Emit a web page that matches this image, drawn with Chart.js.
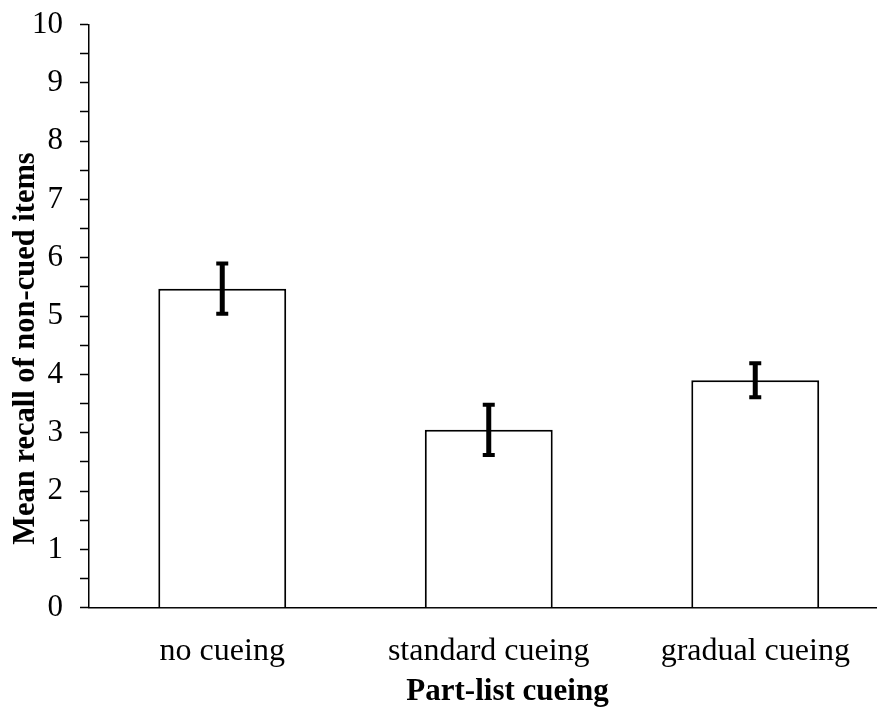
<!DOCTYPE html>
<html>
<head>
<meta charset="utf-8">
<script src="https://cdn.jsdelivr.net/npm/chart.js@4"></script>
<style>
  html, body { margin: 0; padding: 0; background: #fff; overflow: hidden; width: 877px; height: 711px; }
  #wrap { width: 900px; height: 711px; }
</style>
</head>
<body>
<div id="wrap"><canvas id="c" width="900" height="711"></canvas></div>
<script>
const categories = ['no cueing', 'standard cueing', 'gradual cueing'];
const meanRecall = [5.47, 3.05, 3.90];
const errorValues = [0.43, 0.43, 0.29];
const yMin = 0;
const yMax = 10;
const yStep = 0.5;
const xTitle = 'Part-list cueing';
const yTitle = 'Mean recall of non-cued items';

const FONT = '"Liberation Serif", "Times New Roman", serif';

const overlayPlugin = {
  id: 'overlay',
  afterDatasetsDraw(chart) {
    const ctx = chart.ctx;
    const xs = chart.scales.x, ys = chart.scales.y;
    ctx.save();
    ctx.strokeStyle = '#000';
    ctx.lineCap = 'butt';
    meanRecall.forEach((m, i) => {
      const cx = xs.getPixelForValue(i);
      const top = ys.getPixelForValue(m + errorValues[i]);
      const bot = ys.getPixelForValue(m - errorValues[i]);
      ctx.lineWidth = 5;
      ctx.beginPath();
      ctx.moveTo(cx, top);
      ctx.lineTo(cx, bot);
      ctx.stroke();
      ctx.lineWidth = 4;
      ctx.beginPath();
      ctx.moveTo(cx - 6, top);
      ctx.lineTo(cx + 6, top);
      ctx.moveTo(cx - 6, bot);
      ctx.lineTo(cx + 6, bot);
      ctx.stroke();
    });
    ctx.restore();
  },
  afterDraw(chart) {
    const ctx = chart.ctx;
    ctx.save();
    ctx.fillStyle = '#000';
    ctx.font = 'bold 31px ' + FONT;
    ctx.textAlign = 'center';
    ctx.textBaseline = 'alphabetic';
    ctx.fillText(xTitle, 507.5, 700);
    ctx.translate(34, 348.5);
    ctx.rotate(-Math.PI / 2);
    ctx.font = 'bold 30.5px ' + FONT;
    ctx.fillText(yTitle, 0, 0);
    ctx.restore();
  }
};

new Chart(document.getElementById('c'), {
  type: 'bar',
  data: {
    labels: categories,
    datasets: [{
      data: meanRecall,
      backgroundColor: '#ffffff',
      borderColor: '#000000',
      borderWidth: 2,
      barPercentage: 0.48,
      categoryPercentage: 1.0
    }]
  },
  options: {
    responsive: false,
    devicePixelRatio: 1,
    animation: false,
    layout: { padding: { left: 30, right: 11.5, top: 24.5, bottom: 0 } },
    plugins: { legend: { display: false }, tooltip: { enabled: false } },
    scales: {
      x: {
        grid: { display: false },
        border: { display: true, color: '#000', width: 1.5 },
        ticks: { color: '#000', font: { family: FONT, size: 32 }, padding: 17, maxRotation: 0, autoSkip: false },
        afterFit: s => { s.height = 103.3; s.paddingLeft = 0; s.paddingRight = 0; }
      },
      y: {
        min: yMin,
        max: yMax,
        grid: { drawOnChartArea: false, drawTicks: true, tickLength: 9, color: '#000', tickWidth: 1.5 },
        border: { display: true, color: '#000', width: 1.5 },
        ticks: {
          stepSize: yStep,
          autoSkip: false,
          color: '#000',
          font: { family: FONT, size: 31 },
          padding: 17,
          callback: v => Number.isInteger(v) ? String(v) : ''
        },
        afterFit: s => { s.width = 59; s.paddingTop = 0; s.paddingBottom = 0; }
      }
    }
  },
  plugins: [overlayPlugin]
});
</script>
</body>
</html>
